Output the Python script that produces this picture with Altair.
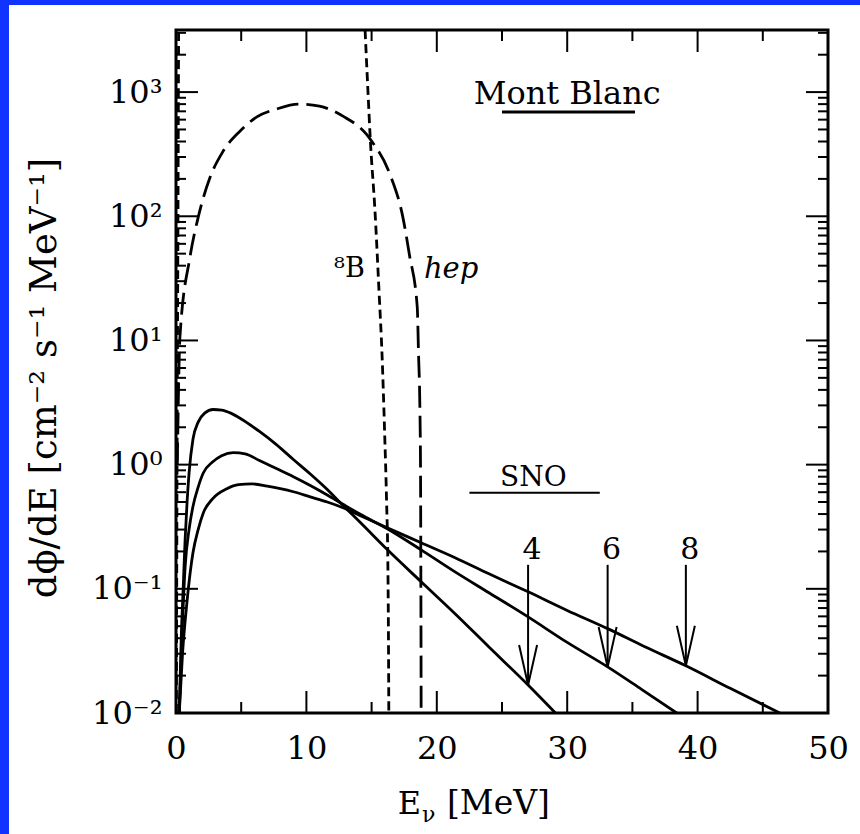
import altair as alt
import pandas as pd

W, H = 652, 683
FONT = "DejaVu Serif"

# ---- solid curves: E [MeV] and dphi/dE ----
t4_E = [0.25, 0.4, 0.55, 0.7, 0.85, 1.0, 1.3, 1.7, 2.2, 2.85, 3.5, 4.2, 5.1, 6.4, 7.7, 9.0, 10.3, 11.6, 12.8, 14.1, 16.2, 18.8, 21.4, 24.0, 27.0, 29.1]
t4_F = [0.01, 0.04, 0.1, 0.25, 0.5, 0.85, 1.6, 2.2, 2.6, 2.78, 2.75, 2.6, 2.3, 1.85, 1.45, 1.1, 0.84, 0.63, 0.47, 0.345, 0.207, 0.114, 0.063, 0.034, 0.0168, 0.01]

t6_E = [0.25, 0.45, 0.7, 1.0, 1.3, 1.7, 2.1, 2.8, 3.5, 4.4, 5.3, 6.4, 7.7, 9.0, 10.3, 11.6, 12.8, 14.1, 16.2, 18.8, 21.4, 24.0, 27.0, 30.0, 33.1, 35.7, 38.4]
t6_F = [0.01, 0.04, 0.15, 0.3, 0.46, 0.66, 0.86, 1.05, 1.18, 1.25, 1.22, 1.08, 0.93, 0.8, 0.68, 0.57, 0.48, 0.40, 0.305, 0.206, 0.137, 0.093, 0.0594, 0.037, 0.0235, 0.0155, 0.01]

t8_E = [0.25, 0.5, 0.85, 1.3, 1.7, 2.1, 2.8, 3.9, 4.8, 5.8, 7.0, 8.0, 9.0, 10.3, 11.6, 12.8, 14.1, 16.2, 18.8, 21.4, 24.0, 27.0, 30.0, 33.1, 36.0, 39.1, 42.5, 46.3]
t8_F = [0.01, 0.03, 0.08, 0.195, 0.3, 0.41, 0.53, 0.64, 0.69, 0.70, 0.67, 0.64, 0.605, 0.55, 0.50, 0.45, 0.39, 0.31, 0.235, 0.178, 0.132, 0.0946, 0.067, 0.0478, 0.034, 0.024, 0.0158, 0.01]

# ---- dashed curves ----
b8_E = [14.5, 14.72, 14.9, 15.26, 15.57, 15.8, 16.0, 16.15, 16.25, 16.3, 16.32]
b8_F = [3162, 1018, 417, 110, 24.8, 7.7, 1.8, 0.5, 0.15, 0.03, 0.01]
b8_low_E = [0.03, 0.08, 0.14, 0.2]
b8_low_F = [0.01, 1.0, 50.0, 3162]

hep_E = [0.1, 0.3, 1.07, 1.7, 2.6, 3.6, 4.9, 6.2, 7.7, 9.4, 11.0, 12.8, 14.6, 15.0, 16.4, 17.4, 17.9, 18.5, 18.6, 18.7, 18.75, 18.78, 18.8]
hep_F = [1.0, 10.6, 46.8, 98, 204, 332, 484, 631, 730, 800, 771, 640, 458, 403, 219, 98, 49, 18.6, 7.7, 3.0, 1.0, 0.1, 0.01]

# ---- arrows (SNO thresholds) ----
arrow_lab = ["4", "6", "8"]
arrow_E = [27.0, 33.1, 39.1]
arrow_tip = [0.0168, 0.0235, 0.024]
arrow_top = [0.156, 0.156, 0.156]
arrow_lab_E = [27.3, 33.4, 39.4]
arrow_lab_F = [0.206, 0.206, 0.206]

# ---- annotations ----
ann_text = ["Mont Blanc", "SNO"]
ann_E = [30.0, 27.4]
ann_F = [964, 0.785]
ann_size = [32, 28]
bar_E1 = [25.0, 22.5]
bar_E2 = [35.2, 32.5]
bar_F = [690, 0.594]
bar_w = [3, 2]

lab_text = ["\u2078B", "hep"]
lab_E = [13.3, 21.1]
lab_F = [37.4, 37.4]

# ---- axis ticks ----
x_labels = [0, 10, 20, 30, 40, 50]
y_labels = [0.01, 0.1, 1, 10, 100, 1000]
x_major = [10, 20, 30, 40]
x_minor = [5, 15, 25, 35, 45]
y_major = [0.1, 1, 10, 100, 1000]
y_minor = [m * d for d in [0.01, 0.1, 1, 10, 100, 1000] for m in range(2, 10) if m * d < 3162]

xs = alt.Scale(domain=[0, 50], nice=False, zero=False)
ys = alt.Scale(type="log", domain=[0.01, 3162.28], nice=False)

ylab = ("datum.value < 0.05 ? '10\u207b\u00b2' : datum.value < 0.5 ? '10\u207b\u00b9' : "
        "datum.value < 5 ? '10\u2070' : datum.value < 50 ? '10\u00b9' : "
        "datum.value < 500 ? '10\u00b2' : '10\u00b3'")

AX = alt.Axis(values=x_labels, ticks=False, domain=False, grid=False,
              labelFont=FONT, labelFontSize=32, labelColor="black", labelPadding=20,
              labelFlush=False, labelOverlap=False, title=None)
AY = alt.Axis(values=y_labels, labelExpr=ylab, ticks=False, domain=False, grid=False,
              labelFont=FONT, labelFontSize=32, labelColor="black", labelPadding=14,
              labelOverlap=False, title=None)


def X(f):
    return alt.X(f, type="quantitative", scale=xs, axis=AX)


def Y(f):
    return alt.Y(f, type="quantitative", scale=ys, axis=AY)


solid = pd.concat([
    pd.DataFrame({"E": t4_E, "F": t4_F, "s": "4"}),
    pd.DataFrame({"E": t6_E, "F": t6_F, "s": "6"}),
    pd.DataFrame({"E": t8_E, "F": t8_F, "s": "8"}),
])

solid_layer = alt.Chart(solid).mark_line(color="black", strokeWidth=2.8, interpolate="monotone", clip=True).encode(
    x=X("E"), y=Y("F"), detail="s:N")


def curve(E, F, dash, width=2.8):
    return alt.Chart(pd.DataFrame({"E": E, "F": F})).mark_line(
        color="black", strokeWidth=width, strokeDash=dash, interpolate="monotone", clip=True
    ).encode(x=X("E"), y=Y("F"))


b8_layer = curve(b8_E, b8_F, [9, 5])
b8_low_layer = curve(b8_low_E, b8_low_F, [9, 5])
hep_layer = curve(hep_E, hep_F, [22, 8])

arrows = pd.DataFrame({"lab": arrow_lab, "E": arrow_E, "tip": arrow_tip, "top": arrow_top,
                       "lE": arrow_lab_E, "lF": arrow_lab_F})
shaft = alt.Chart(arrows).mark_rule(color="black", strokeWidth=2).encode(
    x=X("E"), y=Y("top"), y2="tip:Q")
head = alt.Chart(arrows).mark_point(shape="M -0.45 -2 L 0 0 L 0.45 -2", filled=False, size=1600,
                                    color="black", strokeWidth=2, opacity=1).encode(
    x=X("E"), y=Y("tip"))
arrow_txt = alt.Chart(arrows).mark_text(font=FONT, fontSize=30, color="black", baseline="middle").encode(
    x=X("lE"), y=Y("lF"), text="lab:N")

ann = pd.DataFrame({"t": ann_text, "E": ann_E, "F": ann_F, "sz": ann_size,
                    "E1": bar_E1, "E2": bar_E2, "bF": bar_F, "bw": bar_w})
ann_txt = alt.Chart(ann).mark_text(font=FONT, color="black", baseline="middle").encode(
    x=X("E"), y=Y("F"), text="t:N", size=alt.Size("sz:Q", scale=None, legend=None))
ann_bar = alt.Chart(ann).mark_rule(color="black").encode(
    x=X("E1"), x2="E2:Q", y=Y("bF"),
    strokeWidth=alt.StrokeWidth("bw:Q", scale=None, legend=None))

lab_df = pd.DataFrame({"t": lab_text, "E": lab_E, "F": lab_F})
lab8 = alt.Chart(lab_df.iloc[[0]]).mark_text(font=FONT, fontSize=27, color="black", baseline="middle").encode(
    x=X("E"), y=Y("F"), text="t:N")
labhep = alt.Chart(lab_df.iloc[[1]]).mark_text(font=FONT, fontSize=29, fontStyle="italic", color="black",
                                               baseline="middle").encode(
    x=X("E"), y=Y("F"), text="t:N")


def xticks(vals, length):
    d = pd.DataFrame({"v": vals})
    bot = alt.Chart(d).mark_rule(color="black", strokeWidth=2).encode(
        x=X("v"), y=alt.value(H), y2=alt.value(H - length))
    top = alt.Chart(d).mark_rule(color="black", strokeWidth=2).encode(
        x=X("v"), y=alt.value(0), y2=alt.value(length))
    return [bot, top]


def yticks(vals, length):
    d = pd.DataFrame({"v": vals})
    left = alt.Chart(d).mark_rule(color="black", strokeWidth=2).encode(
        y=Y("v"), x=alt.value(0), x2=alt.value(length))
    right = alt.Chart(d).mark_rule(color="black", strokeWidth=2).encode(
        y=Y("v"), x=alt.value(W), x2=alt.value(W - length))
    return [left, right]


one = pd.DataFrame({"a": [0]})
blue_left = alt.Chart(one).mark_rect(color="#1133ff").encode(
    x=alt.value(-176), x2=alt.value(-167), y=alt.value(-30), y2=alt.value(H + 121))
blue_top = alt.Chart(one).mark_rect(color="#1133ff").encode(
    x=alt.value(-176), x2=alt.value(W + 32), y=alt.value(-30), y2=alt.value(-25))

xt_E = alt.Chart(one).mark_text(font=FONT, fontSize=32, color="black", align="right", baseline="alphabetic").encode(
    x=alt.value(245), y=alt.value(784), text=alt.value("E"))
xt_nu = alt.Chart(one).mark_text(font=FONT, fontSize=22, color="black", align="left", baseline="alphabetic").encode(
    x=alt.value(246), y=alt.value(792), text=alt.value("\u03bd"))
xt_mev = alt.Chart(one).mark_text(font=FONT, fontSize=33, color="black", align="left", baseline="alphabetic").encode(
    x=alt.value(271), y=alt.value(784), text=alt.value("[MeV]"))
yt = alt.Chart(one).mark_text(font=FONT, fontSize=37, color="black", align="center", baseline="middle",
                              angle=270).encode(
    x=alt.value(-131), y=alt.value(348),
    text=alt.value("d\u03d5/dE  [cm\u207b\u00b2  s\u207b\u00b9  MeV\u207b\u00b9]"))

layers = [solid_layer, b8_layer, b8_low_layer, hep_layer, shaft, head, arrow_txt, ann_txt, ann_bar, lab8, labhep]
layers += xticks(x_major, 22) + xticks(x_minor, 11) + yticks(y_major, 22) + yticks(y_minor, 10)
layers += [blue_left, blue_top, xt_E, xt_nu, xt_mev, yt]

chart = alt.layer(*layers).properties(
    width=W, height=H,
    padding={"left": 176, "top": 30, "right": 32, "bottom": 121},
    autosize=alt.AutoSizeParams(type="none"),
    background="white",
).configure_view(stroke="black", strokeWidth=3)

chart.save("out.html", embed_options={"renderer": "svg", "actions": False})
